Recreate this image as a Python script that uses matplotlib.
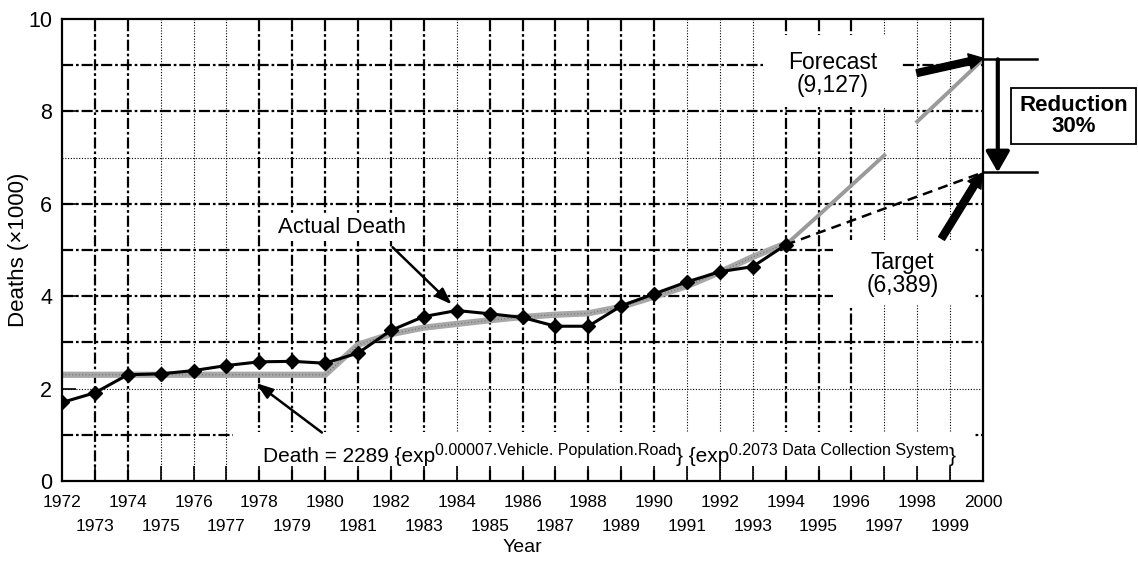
import matplotlib
matplotlib.use("Agg")
import matplotlib.pyplot as plt
from matplotlib.patches import Rectangle

plt.rcParams['font.family'] = ['Liberation Sans', 'DejaVu Sans']

# data (deaths x1000)
years = list(range(1972, 1995))
actual = [1.70, 1.91, 2.30, 2.32, 2.39, 2.50, 2.58, 2.59, 2.55, 2.77, 3.26, 3.56,
          3.69, 3.62, 3.54, 3.35, 3.35, 3.79, 4.05, 4.31, 4.53, 4.64, 5.11]
model = [2.30, 2.30, 2.30, 2.30, 2.30, 2.30, 2.30, 2.30, 2.30, 2.95, 3.18, 3.32,
         3.40, 3.48, 3.55, 3.60, 3.63, 3.77, 3.99, 4.22, 4.52, 4.85, 5.14]
fc_years1 = [1994, 1995, 1996, 1997]
fc_vals1 = [5.11, 5.75, 6.40, 7.05]
fc_years2 = [1998, 1999, 2000]
fc_vals2 = [7.78, 8.45, 9.127]
target_years = [1994, 2000]
target_vals = [5.11, 6.68]
forecast_2000 = 9.127
target_2000 = 6.68

even_years = list(range(1972, 2001, 2))
odd_years = list(range(1973, 2000, 2))
dotted_years = [1975, 1976, 1977, 1984, 1991, 1992, 1993, 1997, 1998, 1999]
dotted_levels = [2, 7]

fig = plt.figure(figsize=(11.38, 5.62), dpi=100)
ax = fig.add_axes([0.0545, 0.1441, 0.8093, 0.8221])
ax.set_xlim(1972, 2000)
ax.set_ylim(0, 10)

# hand made grid
dashdot = (0, (5, 1.3, 1.2, 1.3))
for yr in range(1973, 2000):
    if yr in dotted_years:
        ax.axvline(yr, color='black', lw=0.8, ls=(0, (1, 1.5)), zorder=1)
    else:
        ax.axvline(yr, color='black', lw=1.6, ls=dashdot, zorder=1)
for lv in range(1, 10):
    if lv in dotted_levels:
        ax.axhline(lv, color='black', lw=0.8, ls=(0, (1, 1.5)), zorder=1)
    else:
        ax.axhline(lv, color='black', lw=1.6, ls=dashdot, zorder=1)

# white areas behind the labels
for x0, y0, w, h in [(1977.2, 0.3, 22.5, 0.76), (1978.4, 5.2, 4.3, 0.58),
                     (1993.3, 8.1, 4.17, 1.55), (1995.43, 3.81, 4.32, 1.41)]:
    ax.add_patch(Rectangle((x0, y0), w, h, facecolor='white', edgecolor='none', zorder=1.8))

# model fit and forecast
ax.plot(years, model, color='#a8a8a8', lw=4.5, zorder=3, solid_capstyle='butt')
ax.plot(years, model, color='#707070', lw=0.8, ls=(0, (1, 2)), zorder=3.1)
ax.plot(fc_years1, fc_vals1, color='#9a9a9a', lw=2.8, zorder=3)
ax.plot(fc_years2, fc_vals2, color='#9a9a9a', lw=2.8, zorder=3)
ax.plot(target_years, target_vals, color='black', lw=1.8, ls=(0, (4, 2.5)), zorder=3)

# actual deaths
ax.plot(years, actual, color='black', lw=2.2, marker='D', markersize=7, zorder=4)

# years in two rows: even on top, odd below
ax.set_xticks(even_years)
ax.set_xticklabels([str(y) for y in even_years], fontsize=12.5)
ax.set_xticks(odd_years, minor=True)
ax.set_xticklabels([str(y) for y in odd_years], minor=True, fontsize=12.5)
ax.set_yticks(range(0, 11, 2))
ax.tick_params(axis='x', which='both', direction='in', length=11, width=1.2)
ax.tick_params(axis='x', which='major', pad=10)
ax.tick_params(axis='x', which='minor', pad=27)
ax.tick_params(axis='y', direction='in', length=10, width=1.2, labelsize=15.5, pad=7)
ax.set_axisbelow(False)
for s in ax.spines.values():
    s.set_linewidth(1.6)
    s.set_zorder(5)
ax.set_xlabel('Year', fontsize=14, labelpad=4)
ax.set_ylabel('Deaths (\u00d71000)', fontsize=16)
ax.yaxis.set_label_coords(-0.036, 0.5)

# labels and arrows
ax.text(1980.5, 5.48, 'Actual Death', fontsize=16, ha='center', va='center', zorder=6)
ax.annotate('', xy=(1983.85, 3.82), xytext=(1982.05, 5.06),
            arrowprops=dict(arrowstyle='-|>,head_width=0.35,head_length=1.0', lw=1.8, color='black',
                            shrinkA=0, shrinkB=0), zorder=6)

# equation built from pieces so the superscripts keep their own spacing
t1 = ax.text(1978.1, 0.32, 'Death = 2289 {exp', fontsize=15, ha='left', va='bottom', zorder=6)
t2 = ax.annotate('0.00007.Vehicle. Population.Road', xy=(1, 0.42), xycoords=t1,
                 fontsize=11.5, ha='left', va='bottom', zorder=6)
t3 = ax.annotate('} {exp', xy=(1, 0), xycoords=(t2, t1),
                 fontsize=15, ha='left', va='bottom', zorder=6)
t4 = ax.annotate('0.2073 Data Collection System', xy=(1, 0.42), xycoords=t3,
                 fontsize=11.5, ha='left', va='bottom', zorder=6)
ax.annotate('}', xy=(1, 0), xycoords=(t4, t1), fontsize=15, ha='left', va='bottom', zorder=6)
ax.annotate('', xy=(1977.9, 2.12), xytext=(1979.9, 1.05),
            arrowprops=dict(arrowstyle='-|>,head_width=0.35,head_length=1.0', lw=1.8, color='black',
                            shrinkA=0, shrinkB=0), zorder=6)

ax.text(1995.42, 8.81, 'Forecast\n(9,127)', fontsize=16.5, ha='center', va='center',
        linespacing=0.95, zorder=6)
ax.text(1997.55, 4.48, 'Target\n(6,389)', fontsize=16.5, ha='center', va='center',
        linespacing=0.95, zorder=6)
ax.annotate('', xy=(2000.0, 9.15), xytext=(1997.99, 8.83),
            arrowprops=dict(arrowstyle='simple,head_width=1.1,head_length=1.0,tail_width=0.5',
                            color='black', shrinkA=0, shrinkB=0), zorder=6, annotation_clip=False)
ax.annotate('', xy=(1999.96, 6.66), xytext=(1998.74, 5.25),
            arrowprops=dict(arrowstyle='simple,head_width=1.1,head_length=1.0,tail_width=0.5',
                            color='black', shrinkA=0, shrinkB=0), zorder=6, annotation_clip=False)

# reduction bracket outside the axes
ax.plot([2000, 2001.64], [forecast_2000, forecast_2000], color='black', lw=1.8, clip_on=False)
ax.plot([2000, 2001.64], [target_2000, target_2000], color='black', lw=1.8, clip_on=False)
ax.annotate('', xy=(2000.45, target_2000), xytext=(2000.45, forecast_2000),
            arrowprops=dict(arrowstyle='-|>,head_width=0.4,head_length=0.7', lw=3, color='black',
                            shrinkA=0, shrinkB=0, mutation_scale=18), annotation_clip=False)
ax.text(2002.75, 7.9, 'Reduction\n30%', fontsize=16, fontweight='bold', ha='center', va='center',
        linespacing=0.95, clip_on=False,
        bbox=dict(boxstyle='square,pad=0.35', facecolor='white', edgecolor='black', lw=1.3))

fig.savefig('out.png', dpi=100)
